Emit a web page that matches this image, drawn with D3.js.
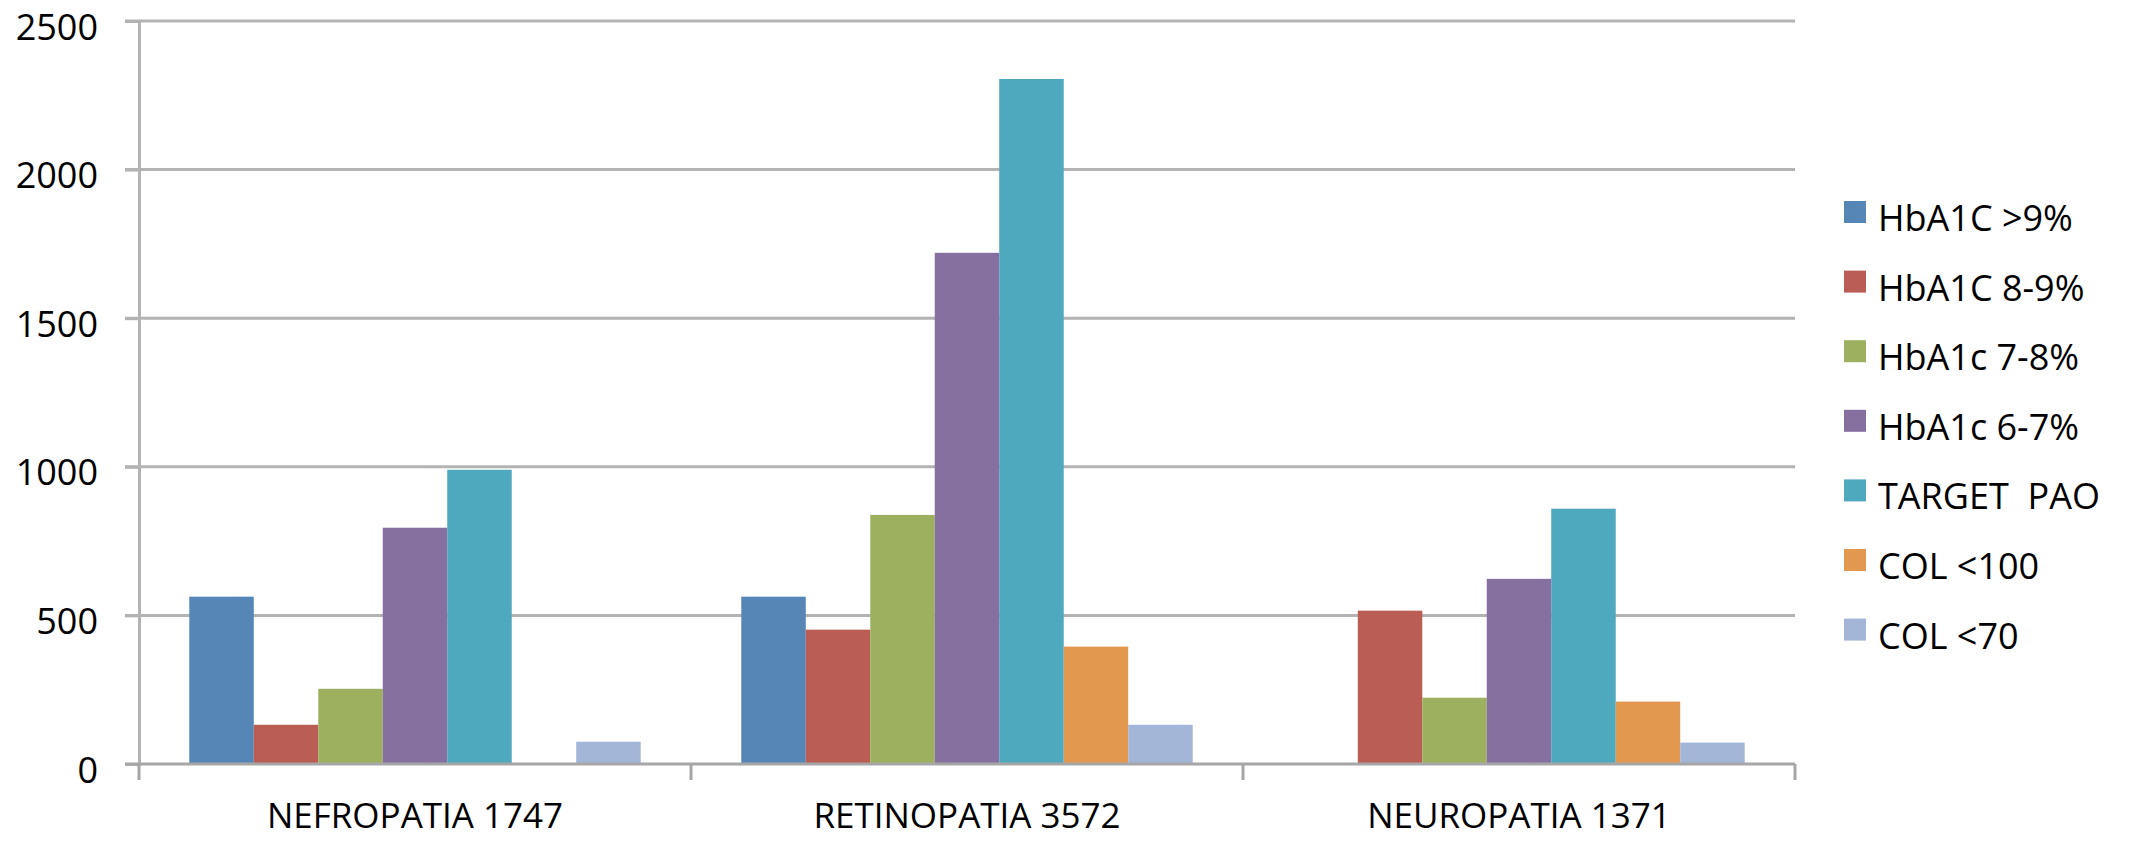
<!DOCTYPE html>
<html>
<head>
<meta charset="utf-8">
<script src="https://cdn.jsdelivr.net/npm/d3@7"></script>
<style>
  html, body { margin: 0; padding: 0; background: #fff; }
  svg { display: block; font-family: "Open Sans", sans-serif; }
  .legend text { white-space: pre; }
</style>
</head>
<body>
<svg id="chart" width="2130" height="841"></svg>
<script>
// Complications grouped by category, one bar per metabolic target
const categories = ["NEFROPATIA 1747", "RETINOPATIA 3572", "NEUROPATIA 1371"];
const seriesNames = ["HbA1C >9%", "HbA1C 8-9%", "HbA1c 7-8%", "HbA1c 6-7%", "TARGET  PAO", "COL <100", "COL <70"];
const seriesColors = ["#5586B5", "#B95D55", "#9CB05F", "#86709F", "#4EA8BE", "#E3984F", "#A3B6D8"];

const hba1cOver9 = [563, 563, null];
const hba1c8to9 = [132, 452, 516];
const hba1c7to8 = [253, 838, 223];
const hba1c6to7 = [795, 1720, 623];
const targetPao = [990, 2305, 859];
const col100 = [null, 395, 210];
const col70 = [75, 132, 72];
const seriesValues = [hba1cOver9, hba1c8to9, hba1c7to8, hba1c6to7, targetPao, col100, col70];

const yTicks = [0, 500, 1000, 1500, 2000, 2500];

const svg = d3.select("#chart");
const plot = { left: 139, right: 1795, top: 21, bottom: 764 };

const x0 = d3.scaleBand().domain(categories).range([plot.left, plot.right]).padding(0);
const x1 = d3.scaleBand().domain(seriesNames).range([0, x0.bandwidth()])
  .paddingInner(0).paddingOuter(0.78);
const y = d3.scaleLinear().domain([0, 2500]).range([plot.bottom, plot.top]);

// horizontal gridlines
svg.append("g").selectAll("line")
  .data(yTicks.filter(d => d > 0))
  .join("line")
  .attr("x1", plot.left - 14).attr("x2", plot.right)
  .attr("y1", d => y(d)).attr("y2", d => y(d))
  .attr("stroke", "#B3B3B3").attr("stroke-width", 3);

// left axis with labels
const yAxis = svg.append("g")
  .attr("transform", `translate(${plot.left},0)`)
  .call(d3.axisLeft(y).tickValues(yTicks).tickSize(14).tickPadding(27).tickFormat(d3.format("d")));
yAxis.select(".domain").attr("stroke", "#B3B3B3").attr("stroke-width", 3);
yAxis.selectAll(".tick line").attr("stroke", "#B3B3B3").attr("stroke-width", 3);
yAxis.selectAll(".tick text")
  .attr("fill", "#000").attr("font-size", 36)
  .attr("font-family", "'Open Sans', sans-serif")
  .attr("dy", "0.5em");

// bars
const groups = svg.append("g").selectAll("g")
  .data(categories)
  .join("g")
  .attr("transform", d => `translate(${x0(d)},0)`);

groups.selectAll("rect")
  .data((c, ci) => seriesNames.map((s, si) => ({ s, si, v: seriesValues[si][ci] })).filter(d => d.v != null))
  .join("rect")
  .attr("x", d => x1(d.s))
  .attr("width", x1.bandwidth())
  .attr("y", d => y(d.v))
  .attr("height", d => y(0) - y(d.v))
  .attr("fill", d => seriesColors[d.si]);

// bottom axis
const xAxis = svg.append("g")
  .attr("transform", `translate(0,${plot.bottom})`)
  .call(d3.axisBottom(x0).tickSize(0).tickPadding(39));
xAxis.select(".domain").remove();
xAxis.selectAll(".tick text")
  .attr("fill", "#000").attr("font-size", 35)
  .attr("font-family", "'Open Sans', sans-serif");

svg.append("line")
  .attr("x1", plot.left - 14).attr("x2", plot.right)
  .attr("y1", plot.bottom).attr("y2", plot.bottom)
  .attr("stroke", "#A6A6A6").attr("stroke-width", 3);

const boundaries = categories.map(c => x0(c)).concat([plot.right]);
svg.append("g").selectAll("line")
  .data(boundaries)
  .join("line")
  .attr("x1", d => d).attr("x2", d => d)
  .attr("y1", plot.bottom).attr("y2", plot.bottom + 16)
  .attr("stroke", "#A6A6A6").attr("stroke-width", 3);

// legend
const legend = svg.append("g").attr("class", "legend")
  .attr("transform", "translate(1844,201)");
const item = legend.selectAll("g")
  .data(seriesNames)
  .join("g")
  .attr("transform", (d, i) => `translate(0,${i * 69.6})`);
item.append("rect")
  .attr("width", 22).attr("height", 22)
  .attr("fill", (d, i) => seriesColors[i]);
item.append("text")
  .attr("x", 34).attr("y", 30)
  .attr("font-size", 36)
  .attr("fill", "#000")
  .text(d => d);
</script>
</body>
</html>
